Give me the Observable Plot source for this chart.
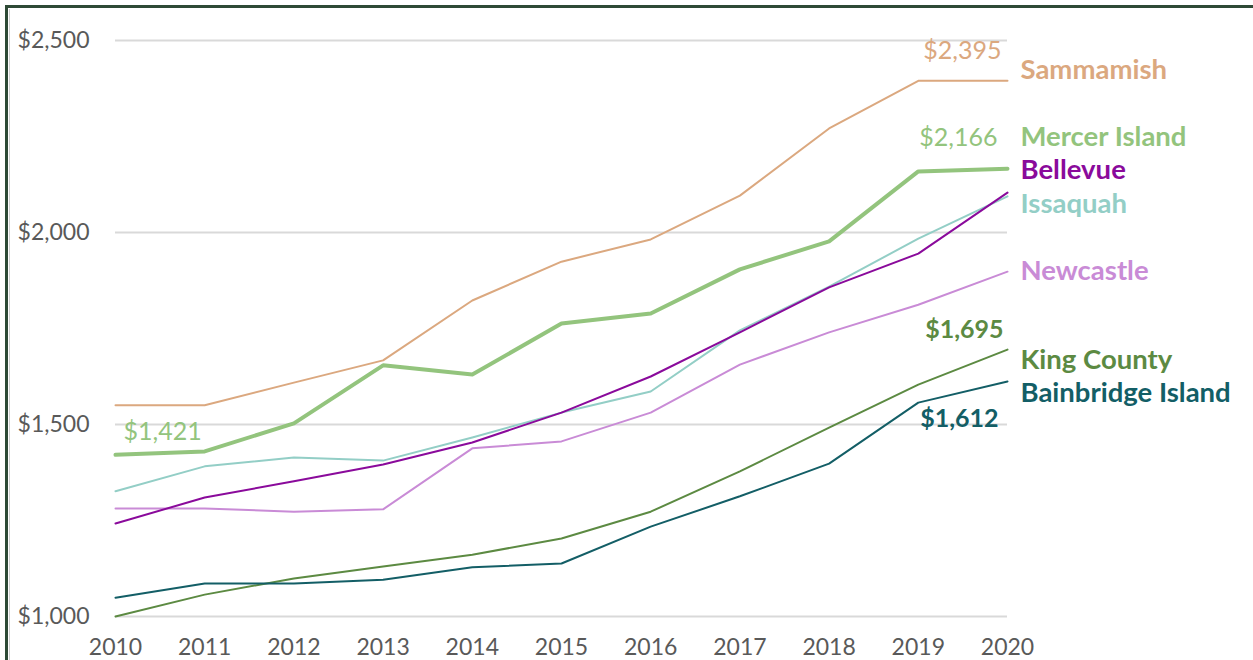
<!DOCTYPE html>
<html>
<head>
<meta charset="utf-8">
<script src="https://cdn.jsdelivr.net/npm/d3@7"></script>
<script src="https://cdn.jsdelivr.net/npm/@observablehq/plot@0.6"></script>
<style>
  html, body { margin: 0; padding: 0; background: #fff; }
  #wrap { position: relative; width: 1253px; height: 660px; overflow: hidden; }
  #frame { position: absolute; left: 5px; top: 5px; width: 1300px; height: 700px;
           border-left: 3px solid #2e4a36; border-top: 3px solid #2e4a36; }
  #inner { position: absolute; left: 9px; top: 9px; width: 1px; height: 700px; background: #d0d0d0; }
  svg { font-family: Lato, "Open Sans", sans-serif; }
</style>
</head>
<body>
<div id="wrap"><div id="frame"></div><div id="inner"></div></div>
<script>
const years = [2010, 2011, 2012, 2013, 2014, 2015, 2016, 2017, 2018, 2019, 2020];
const seriesNames = ["Sammamish", "Mercer Island", "Bellevue", "Issaquah", "Newcastle", "King County", "Bainbridge Island"];
const sammamish  = [1550, 1550, 1609, 1667, 1823, 1924, 1982, 2096, 2271, 2395, 2395];
const mercer     = [1421, 1430, 1503, 1654, 1630, 1763, 1789, 1904, 1977, 2159, 2166];
const bellevue   = [1242, 1310, 1352, 1396, 1453, 1531, 1625, 1740, 1857, 1945, 2104];
const issaquah   = [1326, 1391, 1414, 1406, 1466, 1531, 1586, 1745, 1859, 1984, 2094];
const newcastle  = [1281, 1281, 1273, 1279, 1438, 1456, 1531, 1656, 1740, 1812, 1898];
const kingCounty = [1000, 1057, 1099, 1130, 1161, 1203, 1273, 1378, 1492, 1604, 1695];
const bainbridge = [1049, 1086, 1086, 1096, 1128, 1138, 1234, 1313, 1398, 1557, 1612];
const yTicks = [1000, 1500, 2000, 2500];

const seriesValues = [sammamish, mercer, bellevue, issaquah, newcastle, kingCounty, bainbridge];
const colors = ["#dba87f", "#93c47d", "#8a0a9b", "#93cec6", "#c98bd6", "#5c8a42", "#135e66"];
const widths = [2, 4, 2, 2, 2, 2, 2];
const nameDy = [-11, -32, -22, 8, 0, 11, 12];

const rows = [];
seriesNames.forEach((name, i) => seriesValues[i].forEach((v, j) => rows.push({name, year: years[j], value: v})));

const fmt = v => "$" + d3.format(",")(v);
const last = i => ({name: seriesNames[i], year: 2020, value: seriesValues[i][10]});

const marks = [
  Plot.ruleY(yTicks, {x1: 2010, x2: 2020, stroke: "#d9d9d9", strokeWidth: 2}),
  Plot.axisY(yTicks, {tickSize: 0, tickPadding: 26, fontSize: 23, fill: "#595959", tickFormat: fmt, label: null}),
  Plot.axisX(years, {tickSize: 0, tickPadding: 22, fontSize: 23, fill: "#595959", tickFormat: d => String(d), label: null})
];
// draw thin lines first, then thick Mercer Island
const order = [5, 6, 4, 3, 2, 0, 1];
order.forEach(i => {
  marks.push(Plot.line(rows.filter(r => r.name === seriesNames[i]), {
    x: "year", y: "value", stroke: colors[i], strokeWidth: widths[i], curve: "linear", strokeLinejoin: "round"
  }));
});
// series names at the right
seriesNames.forEach((name, i) => {
  marks.push(Plot.text([last(i)], {
    x: "year", y: "value", text: "name", textAnchor: "start", dx: 13, dy: nameDy[i],
    fill: colors[i], fontSize: 27.5, fontWeight: 700
  }));
});
// value call-outs
const callouts = [
  {i: 0, j: 10, anchor: "end", dx: -6, dy: -30, weight: 400},
  {i: 1, j: 10, anchor: "end", dx: -10, dy: -31, weight: 400},
  {i: 5, j: 10, anchor: "end", dx: -4, dy: -20, weight: 700},
  {i: 6, j: 10, anchor: "end", dx: -9, dy: 38, weight: 700},
  {i: 1, j: 0, anchor: "start", dx: 8, dy: -23, weight: 400}
];
callouts.forEach(c => {
  marks.push(Plot.text([{year: years[c.j], value: seriesValues[c.i][c.j]}], {
    x: "year", y: "value", text: d => fmt(d.value), textAnchor: c.anchor, dx: c.dx, dy: c.dy,
    fill: colors[c.i], fontSize: 25, fontWeight: c.weight
  }));
});

const chart = Plot.plot({
  width: 1253,
  height: 660,
  marginLeft: 115,
  marginRight: 246,
  marginTop: 40,
  marginBottom: 44,
  x: {domain: [2010, 2020]},
  y: {domain: [1000, 2500]},
  style: {fontFamily: "Lato, 'Open Sans', sans-serif", background: "transparent", overflow: "visible"},
  marks
});
chart.style.position = "absolute";
chart.style.left = "0px";
chart.style.top = "0px";
document.getElementById("wrap").appendChild(chart);
</script>
</body>
</html>
